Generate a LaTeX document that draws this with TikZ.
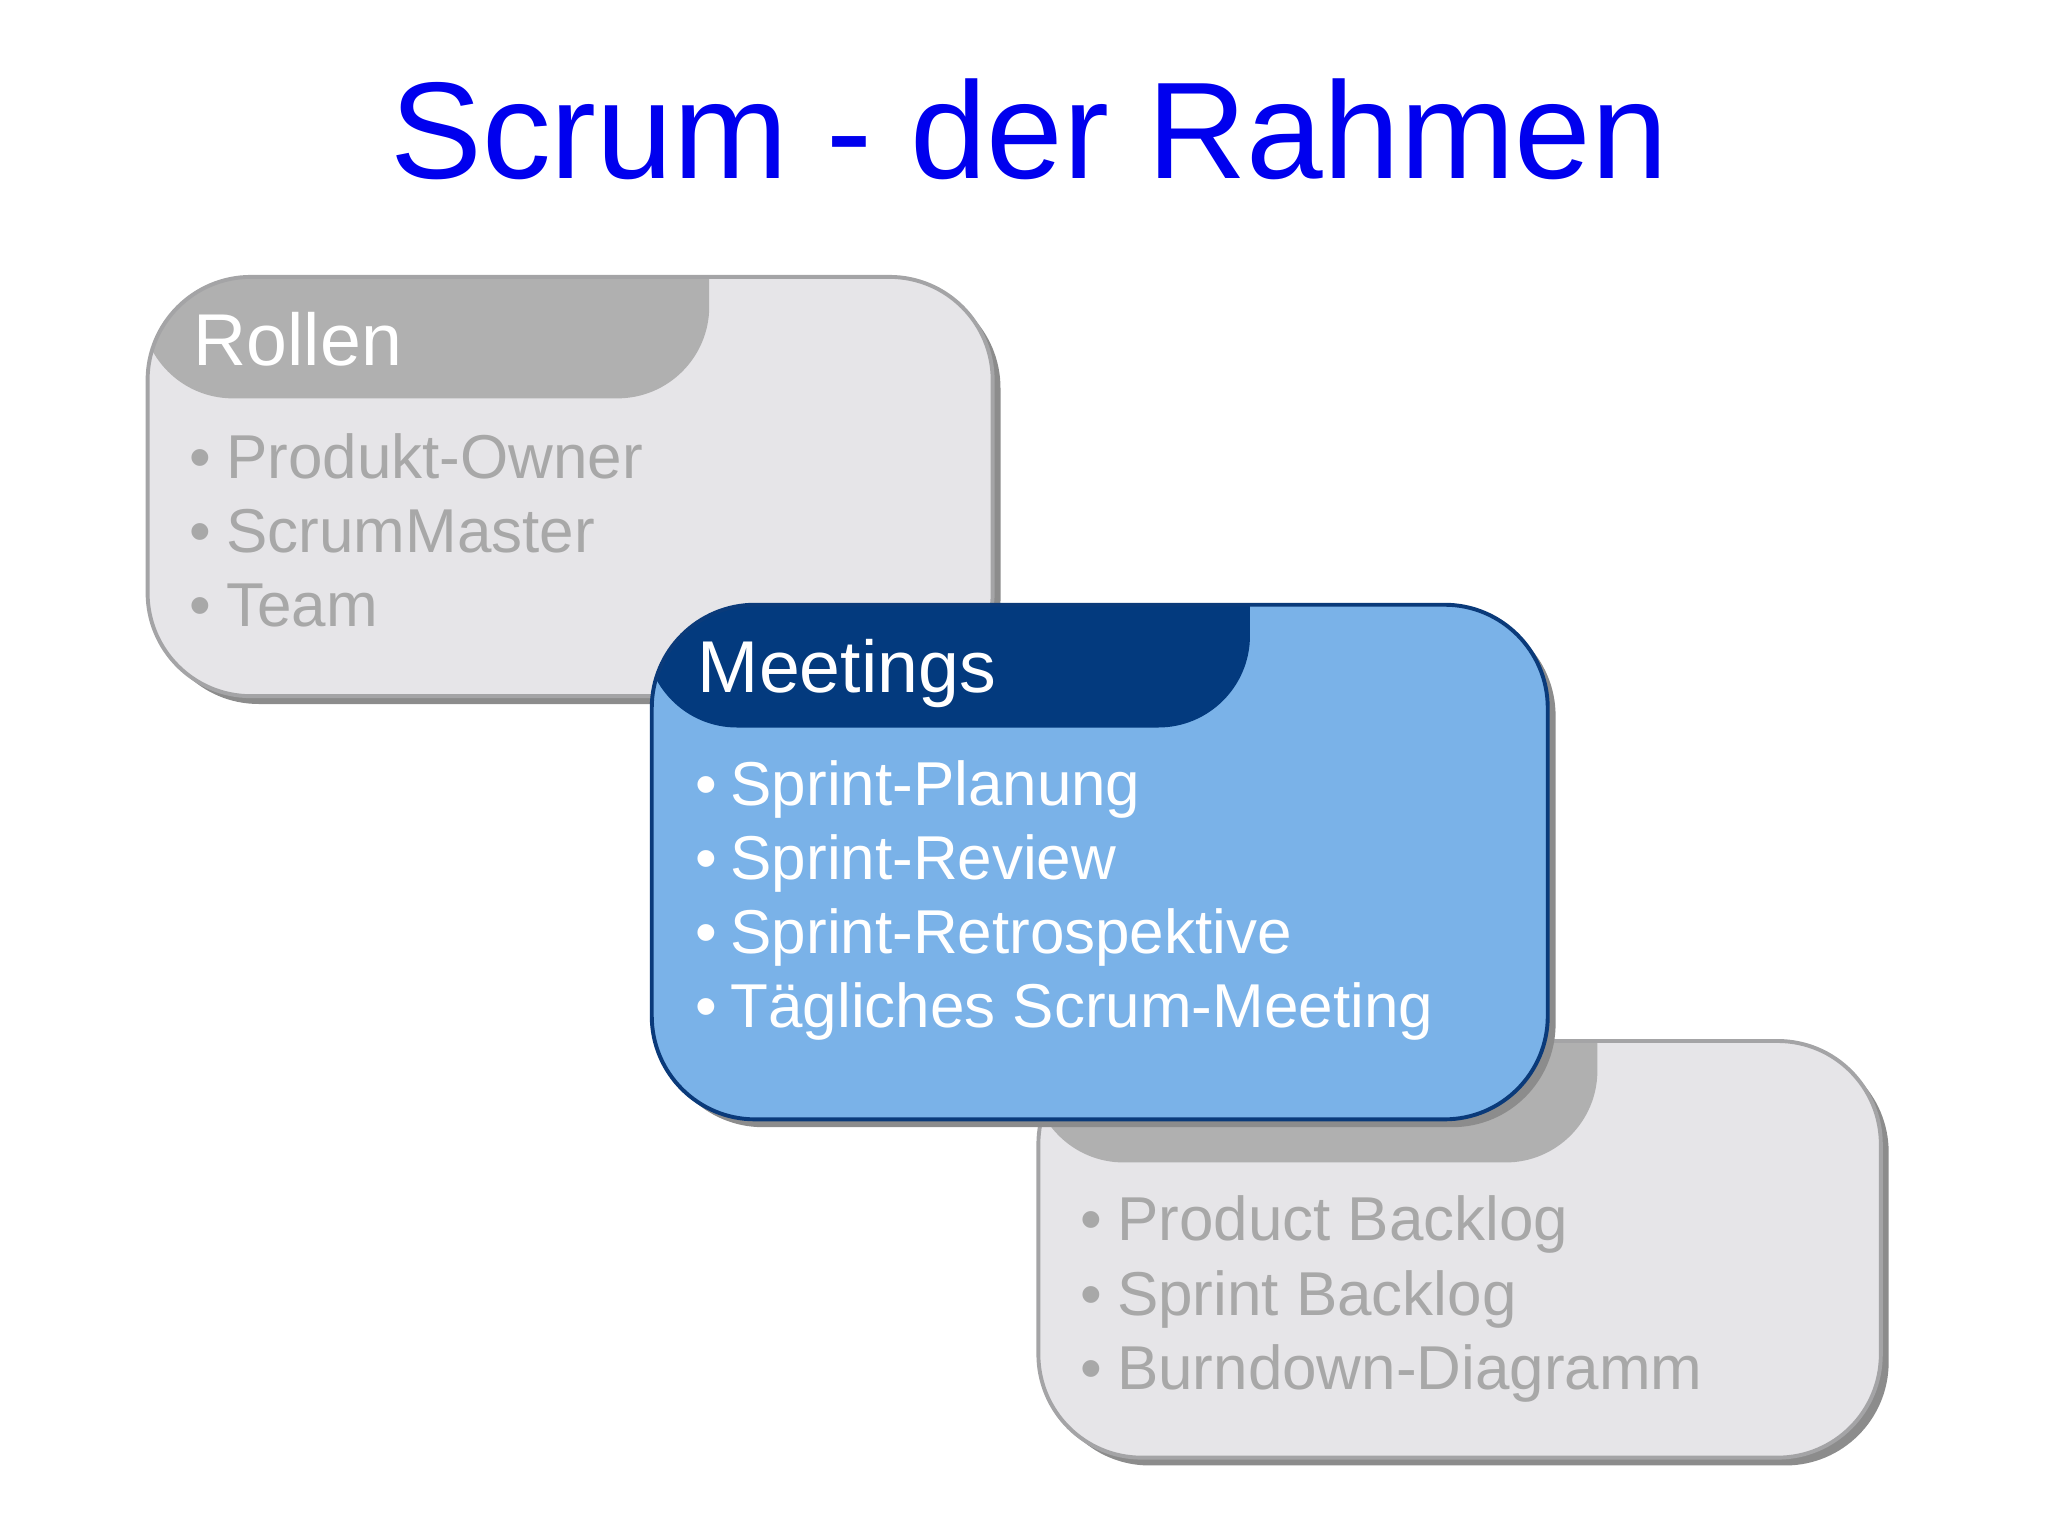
\documentclass[tikz,border=0pt]{standalone}
\usepackage{fontspec}
\setmainfont{Liberation Sans}
\begin{document}
\begin{tikzpicture}[x=0.02cm,y=-0.02cm,
  item/.style={anchor=base west,inner sep=0pt,font=\fontsize{27}{30}\selectfont},
  bul/.style={anchor=base west,inner sep=0pt,font=\fontsize{27}{30}\selectfont},
  head/.style={anchor=base west,inner sep=0pt,font=\fontsize{32}{36}\selectfont,text=white}]
\definecolor{gbody}{HTML}{E6E5E8}\definecolor{ghead}{HTML}{B0B0B0}\definecolor{gline}{HTML}{A4A4A6}
\definecolor{gtext}{HTML}{A8A8A8}\definecolor{bbody}{HTML}{7AB2E8}\definecolor{bhead}{HTML}{033A7E}
\definecolor{bline}{HTML}{0A3A7A}\definecolor{shad}{HTML}{8C8C8C}
\useasboundingbox (0,0) rectangle (1568,1175);
\node[anchor=base,inner sep=0pt,text={rgb,255:red,0;green,0;blue,238},font=\fontsize{60}{66}\selectfont] (title) at (788,137) {Scrum - der Rahmen};
% generic card macro
\newcommand\mycard[9]{% x1,y1,x2,y2,tabx,taby,body,head,line
  \fill[shad,rounded corners=45] (#1+6,#2+6) rectangle (#3+6,#4+6);
  \begin{scope}
  \clip[rounded corners=45] (#1,#2) rectangle (#3,#4);
  \fill[#7] (#1,#2) rectangle (#3,#4);
  \fill[#8] (#1-5,#2-5) -- (#5,#2-5) [rounded corners=40] -- (#5,#6) -- (#1-5,#6) [sharp corners] -- cycle;
  \end{scope}
  \draw[#9,line width=0.06cm,rounded corners=45] (#1,#2) rectangle (#3,#4);}
% Rollen
\mycard{113}{212}{760}{533}{543}{305}{gbody}{ghead}{gline}
\node[head] (rh) at (148,280) {Rollen};
\foreach \t/\y/\n in {Produkt-Owner/366/r1,ScrumMaster/423/r2,Team/480/r3}{
  \node[bul,text=gtext] (\n b) at (145,\y) {•};
  \node[item,text=gtext] (\n) at (173,\y) {\t};}
% Artefakte
\mycard{795}{797}{1440}{1116}{1223}{890}{gbody}{ghead}{gline}
\node[head] (ah) at (830,862) {Artefakte};
\foreach \t/\y/\n in {Product Backlog/950/a1,Sprint Backlog/1007/a2,Burndown-Diagramm/1064/a3}{
  \node[bul,text=gtext] (\n b) at (827,\y) {•};
  \node[item,text=gtext] (\n) at (855,\y) {\t};}
% Meetings
\mycard{499}{463}{1185}{857}{957}{557}{bbody}{bhead}{bline}
\node[head] (mh) at (534,530) {Meetings};
\foreach \t/\y/\n in {Sprint-Planung/617/m1,Sprint-Review/673/m2,Sprint-Retrospektive/730/m3,Tägliches Scrum-Meeting/787/m4}{
  \node[bul,text=white] (\n b) at (532,\y) {•};
  \node[item,text=white] (\n) at (559,\y) {\t};}
\end{tikzpicture}
\end{document}
